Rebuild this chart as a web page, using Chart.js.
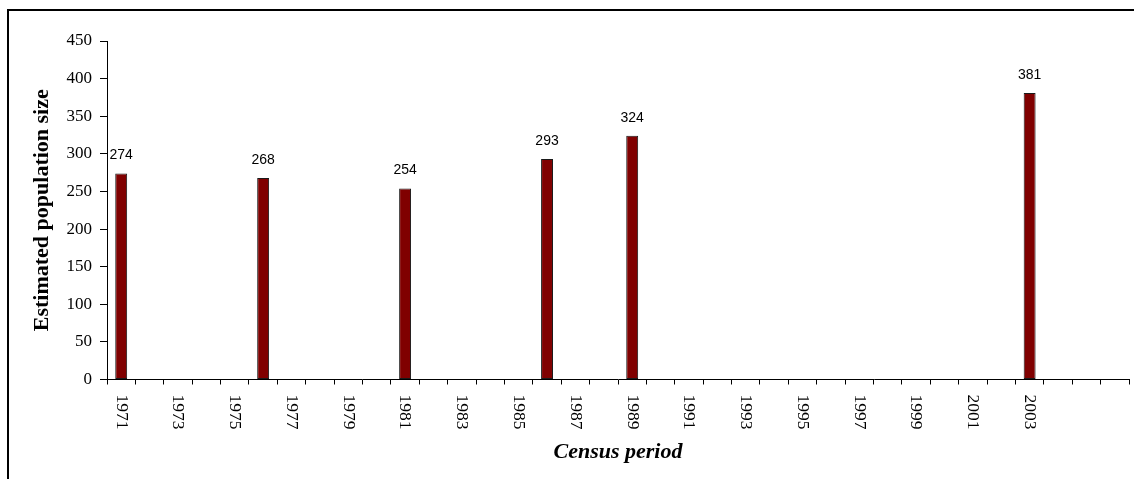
<!DOCTYPE html>
<html>
<head>
<meta charset="utf-8">
<script src="https://cdn.jsdelivr.net/npm/chart.js@4/dist/chart.umd.min.js"></script>
<style>
  html, body { margin: 0; padding: 0; background: #fff; }
  canvas { display: block; }
</style>
</head>
<body>
<canvas id="c" width="1134" height="479" style="width:1134px;height:479px"></canvas>
<script>
// ---- data ----
const categories = [
  '1971','1972','1973','1974','1975','1976','1977','1978','1979','1980',
  '1981','1982','1983','1984','1985','1986','1987','1988','1989','1990',
  '1991','1992','1993','1994','1995','1996','1997','1998','1999','2000',
  '2001','2002','2003','2004','',''
];
const populations = [
  274, null, null, null, null, 268, null, null, null, null,
  254, null, null, null, null, 293, null, null, 324, null,
  null, null, null, null, null, null, null, null, null, null,
  null, null, 381, null, null, null
];
const yTicks = { min: 0, max: 450, step: 50 };
const xTitle = 'Census period';
const yTitle = 'Estimated population size';

// ---- plugins ----
const framePlugin = {
  id: 'frame',
  beforeDraw(chart) {
    const ctx = chart.ctx;
    ctx.save();
    ctx.fillStyle = '#fff';
    ctx.fillRect(0, 0, chart.width, chart.height);
    ctx.strokeStyle = '#000';
    ctx.lineWidth = 2;
    ctx.beginPath();
    ctx.moveTo(8, chart.height + 2);
    ctx.lineTo(8, 10);
    ctx.lineTo(chart.width + 2, 10);
    ctx.stroke();
    ctx.restore();
  }
};

const valueLabels = {
  id: 'valueLabels',
  afterDatasetsDraw(chart) {
    const ctx = chart.ctx;
    const meta = chart.getDatasetMeta(0);
    ctx.save();
    ctx.font = '14px "Liberation Sans", Arial, sans-serif';
    ctx.fillStyle = '#000';
    ctx.textAlign = 'center';
    ctx.textBaseline = 'middle';
    meta.data.forEach((bar, i) => {
      const v = populations[i];
      if (v === null || v === undefined) return;
      ctx.fillText(String(v), bar.x, bar.y - 18);
    });
    ctx.restore();
  }
};

const xTickLabels = {
  id: 'xTickLabels',
  afterDraw(chart) {
    const ctx = chart.ctx;
    const xs = chart.scales.x;
    ctx.save();
    ctx.font = '17.5px "Liberation Serif", "Times New Roman", serif';
    ctx.fillStyle = '#000';
    ctx.textAlign = 'left';
    ctx.textBaseline = 'middle';
    categories.forEach((lab, i) => {
      if (i % 2 !== 0 || !lab) return;
      const x = xs.getPixelForValue(i);
      ctx.save();
      ctx.translate(x, xs.top + 15);
      ctx.rotate(Math.PI / 2);
      ctx.fillText(lab, 0, 0);
      ctx.restore();
    });
    ctx.restore();
  }
};

new Chart(document.getElementById('c'), {
  type: 'bar',
  data: {
    labels: categories,
    datasets: [{
      data: populations,
      backgroundColor: '#800000',
      borderColor: '#1a1a1a',
      borderWidth: 1,
      borderSkipped: false,
      barPercentage: 0.42,
      categoryPercentage: 1.0
    }]
  },
  options: {
    responsive: false,
    animation: false,
    layout: { padding: { left: 0, right: 5, top: 41, bottom: 0 } },
    plugins: { legend: { display: false }, tooltip: { enabled: false } },
    scales: {
      x: {
        offset: true,
        grid: { display: true, drawOnChartArea: false, drawTicks: true, tickLength: 5, color: '#000', offset: true },
        border: { color: '#000', width: 1 },
        ticks: { display: false },
        title: {
          display: true, text: xTitle, color: '#000',
          font: { family: '"Liberation Serif", "Times New Roman", serif', size: 22, weight: 'bold', style: 'italic' },
          padding: { top: 0, bottom: 13 }
        },
        afterFit(s) { s.height = 99.5; }
      },
      y: {
        min: yTicks.min, max: yTicks.max,
        ticks: {
          stepSize: yTicks.step, color: '#000', padding: 8,
          font: { family: '"Liberation Serif", "Times New Roman", serif', size: 17 }
        },
        grid: { drawOnChartArea: false, drawTicks: true, tickLength: 7, color: '#000' },
        border: { color: '#000', width: 1 },
        title: {
          display: true, text: yTitle, color: '#000',
          font: { family: '"Liberation Serif", "Times New Roman", serif', size: 22, weight: 'bold' },
          padding: { top: 29, bottom: 0 }
        },
        afterFit(s) { s.width = 107; }
      }
    }
  },
  plugins: [framePlugin, valueLabels, xTickLabels]
});
</script>
</body>
</html>
